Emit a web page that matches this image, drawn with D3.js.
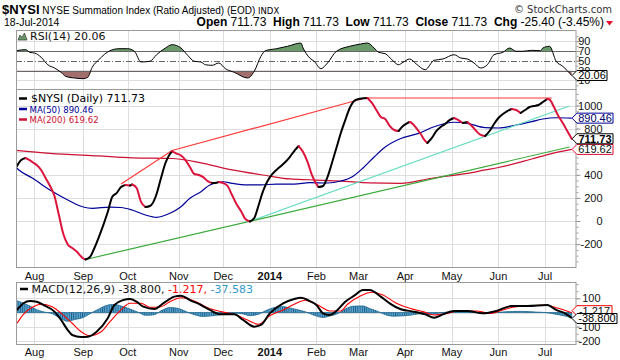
<!DOCTYPE html>
<html><head><meta charset="utf-8">
<script src="https://cdn.jsdelivr.net/npm/d3@7"></script>
<style>body{margin:0;background:#fff}svg{display:block}text{white-space:pre}</style>
</head><body><svg id="c" width="620" height="360"></svg>
<script>
// ---------- calendar / categories ----------
const firstDay = "2013-07-19", lastDay = "2014-07-18";
const holidays = ["2013-09-02","2013-11-28","2013-12-25","2014-01-01","2014-01-20","2014-02-17","2014-04-18","2014-05-26","2014-07-04"];
const monthTickDates = ["2013-08-01","2013-09-03","2013-10-01","2013-11-01","2013-12-02","2014-01-02","2014-02-03","2014-03-03","2014-04-01","2014-05-01","2014-06-02","2014-07-01"];
const monthTickLabels = ["Aug","Sep","Oct","Nov","Dec","2014","Feb","Mar","Apr","May","Jun","Jul"];
const mainTicks = [-200,0,200,400,800,1000];
const rsiTicks = [10,30,50,70,90];
const macdTicks = [-200,-100,100];
const headerStats = [["Open","711.73"],["High","711.73"],["Low","711.73"],["Close","711.73"],["Chg","-25.40 (-3.45%)"]];

// ---------- series ----------
const nysi = [
["2013-07-19",445],["2013-07-22",475],["2013-07-24",528],["2013-07-26",545],["2013-07-30",525],["2013-07-31",511],
["2013-08-02",485],["2013-08-06",442],["2013-08-08",372],["2013-08-12",303],["2013-08-14",216],["2013-08-16",52],["2013-08-20",-113],["2013-08-22",-203],["2013-08-26",-234],["2013-08-28",-264],["2013-08-30",-307],
["2013-09-03",-325],["2013-09-04",-333],["2013-09-06",-312],["2013-09-10",-234],["2013-09-12",-139],["2013-09-16",-35],["2013-09-18",78],["2013-09-20",208],["2013-09-24",242],["2013-09-26",294],["2013-09-30",312],
["2013-10-02",307],["2013-10-03",316],["2013-10-07",286],["2013-10-09",165],["2013-10-11",121],["2013-10-15",130],["2013-10-16",147],["2013-10-18",234],["2013-10-22",372],["2013-10-24",502],["2013-10-28",580],["2013-10-29",602],["2013-10-31",584],
["2013-11-04",567],["2013-11-06",528],["2013-11-08",468],["2013-11-12",407],["2013-11-14",398],["2013-11-18",380],["2013-11-20",345],["2013-11-22",329],["2013-11-26",332],["2013-11-27",338],
["2013-12-02",329],["2013-12-04",303],["2013-12-06",225],["2013-12-10",147],["2013-12-12",87],["2013-12-16",17],["2013-12-18",-4],["2013-12-20",26],["2013-12-24",139],["2013-12-27",260],["2013-12-31",346],
["2014-01-03",403],["2014-01-07",442],["2014-01-09",476],["2014-01-13",511],["2014-01-15",554],["2014-01-17",606],["2014-01-22",649],["2014-01-24",597],["2014-01-28",511],["2014-01-30",398],
["2014-02-03",320],["2014-02-04",294],["2014-02-06",303],["2014-02-10",381],["2014-02-12",502],["2014-02-14",632],["2014-02-19",762],["2014-02-21",874],["2014-02-25",978],["2014-02-27",1039],
["2014-03-03",1056],["2014-03-05",1062],["2014-03-07",1065],["2014-03-11",1022],["2014-03-13",961],["2014-03-17",900],["2014-03-19",883],["2014-03-21",823],["2014-03-25",788],["2014-03-27",779],["2014-03-31",823],
["2014-04-02",848],["2014-04-03",857],["2014-04-04",848],["2014-04-08",805],["2014-04-10",753],["2014-04-14",693],["2014-04-15",675],["2014-04-17",719],["2014-04-22",779],["2014-04-24",814],["2014-04-28",840],["2014-04-30",874],
["2014-05-02",892],["2014-05-06",874],["2014-05-08",848],["2014-05-12",857],["2014-05-14",823],["2014-05-16",779],["2014-05-20",745],["2014-05-22",736],["2014-05-27",779],["2014-05-29",840],
["2014-06-02",892],["2014-06-04",926],["2014-06-06",952],["2014-06-10",970],["2014-06-12",961],["2014-06-16",935],["2014-06-18",961],["2014-06-20",987],["2014-06-24",996],["2014-06-26",1004],["2014-06-30",1030],
["2014-07-02",1056],["2014-07-03",1052],["2014-07-08",987],["2014-07-10",909],["2014-07-14",848],["2014-07-16",779],["2014-07-18",711.73]
];
const ma50 = [
["2013-07-19",480],["2013-07-23",442],["2013-07-31",372],["2013-08-12",268],["2013-08-22",182],["2013-09-03",121],["2013-09-09",110],["2013-09-19",120],["2013-09-26",117],
["2013-10-03",95],["2013-10-11",52],["2013-10-18",32],["2013-10-28",67],["2013-11-04",124],["2013-11-08",197],["2013-11-15",254],["2013-11-21",312],["2013-12-02",340],["2013-12-06",326],
["2013-12-17",312],["2013-12-26",312],["2014-01-07",320],["2014-01-17",320],["2014-01-29",332],["2014-02-10",329],["2014-02-19",346],["2014-02-26",381],["2014-03-05",459],["2014-03-12",554],
["2014-03-19",641],["2014-03-28",714],["2014-04-09",759],["2014-04-21",816],["2014-05-02",855],["2014-05-12",846],["2014-05-22",808],["2014-06-02",805],["2014-06-12",831],["2014-06-23",860],
["2014-06-30",883],["2014-07-09",894],["2014-07-18",890.46]
];
const ma200 = [
["2013-07-19",612],["2013-08-12",586],["2013-09-12",563],["2013-10-03",547],["2013-10-29",541],["2013-11-14",508],["2013-12-06",442],["2013-12-31",392],["2014-01-15",364],
["2014-01-29",357],["2014-02-19",345],["2014-03-10",330],["2014-03-28",326],["2014-04-17",370],["2014-05-12",413],["2014-05-22",442],["2014-06-02",463],["2014-06-23",537],["2014-07-07",584],["2014-07-18",619.62]
];
const trendRed = [["2013-09-26",320],["2013-10-29",610],["2014-03-06",1065],["2014-07-07",1065]];
const trendGreen = [["2013-09-04",-333],["2014-07-17",641]];
const trendCyan = [["2013-12-18",-4],["2014-07-17",996]];
const rsi = [
["2013-07-19",69],["2013-07-22",70.6],["2013-07-26",72.7],["2013-07-30",67],["2013-08-01",65.9],["2013-08-06",57.1],["2013-08-09",42],["2013-08-14",35.3],["2013-08-19",26.5],["2013-08-21",18.4],
["2013-08-27",14.9],["2013-09-03",13.5],["2013-09-05",16.3],["2013-09-09",36.7],["2013-09-12",52.2],["2013-09-19",70.6],["2013-09-25",74.7],["2013-10-01",74.7],["2013-10-04",69.4],["2013-10-09",47.6],
["2013-10-15",49],["2013-10-18",62.4],["2013-10-24",76.1],["2013-10-29",82.9],["2013-11-04",76.1],["2013-11-07",61.2],["2013-11-12",49],["2013-11-15",47.6],["2013-11-19",42],["2013-11-22",40.8],
["2013-11-27",45.5],["2013-12-03",33.9],["2013-12-09",26.5],["2013-12-17",14.9],["2013-12-20",28.6],["2013-12-26",59.2],["2013-12-30",70.6],["2014-01-07",74.7],["2014-01-14",79.6],["2014-01-23",86.3],
["2014-01-24",76.1],["2014-01-29",55.7],["2014-01-31",49],["2014-02-05",33.9],["2014-02-10",45.5],["2014-02-14",69.4],["2014-02-25",79.6],["2014-03-04",84.3],["2014-03-07",86.3],["2014-03-12",76.1],
["2014-03-14",67.3],["2014-03-19",64.5],["2014-03-24",52.2],["2014-03-27",42],["2014-03-31",46.9],["2014-04-03",53.7],["2014-04-08",43.5],["2014-04-14",31.8],["2014-04-21",51],["2014-04-25",53.7],
["2014-05-02",62.4],["2014-05-07",55.7],["2014-05-12",53.7],["2014-05-15",45.5],["2014-05-20",35.3],["2014-05-23",42],["2014-05-29",62.4],["2014-06-04",67.3],["2014-06-09",76.1],["2014-06-12",69.4],
["2014-06-17",69.4],["2014-06-23",71.4],["2014-06-27",70.6],["2014-06-30",76.1],["2014-07-03",79.6],["2014-07-09",49],["2014-07-14",38.8],["2014-07-18",20.06]
];
const macd = [
["2013-07-19",5],["2013-07-22",18],["2013-07-25",65],["2013-07-30",81],["2013-08-02",76],["2013-08-07",53],["2013-08-14",6],["2013-08-19",-53],["2013-08-22",-124],["2013-08-26",-159],["2013-08-30",-173],
["2013-09-05",-171],["2013-09-11",-136],["2013-09-18",-41],["2013-09-23",53],["2013-09-27",88],["2013-10-02",95],["2013-10-07",76],["2013-10-10",41],["2013-10-17",25],["2013-10-23",65],["2013-10-30",112],
["2013-11-04",119],["2013-11-08",88],["2013-11-15",53],["2013-11-21",18],["2013-11-29",-13],["2013-12-09",-13],["2013-12-13",-53],["2013-12-20",-100],["2013-12-26",-88],["2014-01-02",-6],["2014-01-10",65],
["2014-01-17",95],["2014-01-23",104],["2014-01-29",81],["2014-02-03",53],["2014-02-06",-6],["2014-02-11",-18],["2014-02-14",11],["2014-02-21",76],["2014-02-27",119],["2014-03-05",159],["2014-03-10",159],
["2014-03-17",112],["2014-03-21",65],["2014-03-28",23],["2014-04-07",6],["2014-04-14",-13],["2014-04-21",-37],["2014-04-25",-13],["2014-05-02",11],["2014-05-12",11],["2014-05-21",-6],["2014-05-30",11],
["2014-06-10",46],["2014-06-19",46],["2014-07-02",53],["2014-07-09",18],["2014-07-15",-6],["2014-07-18",-38.8]
];
const signal = [
["2013-07-19",-90],["2013-07-22",-76],["2013-07-25",-13],["2013-07-31",37],["2013-08-06",58],["2013-08-13",41],["2013-08-19",-6],["2013-08-26",-76],["2013-08-30",-136],["2013-09-06",-164],["2013-09-13",-136],
["2013-09-19",-65],["2013-09-26",18],["2013-10-02",65],["2013-10-09",65],["2013-10-15",37],["2013-10-22",41],["2013-10-28",76],["2013-11-04",104],["2013-11-12",81],["2013-11-20",34],["2013-11-29",6],
["2013-12-09",-13],["2013-12-17",-53],["2013-12-24",-83],["2014-01-02",-23],["2014-01-10",18],["2014-01-17",58],["2014-01-27",86],["2014-01-29",78],["2014-02-05",41],["2014-02-11",11],["2014-02-19",11],
["2014-02-24",58],["2014-03-04",119],["2014-03-11",143],["2014-03-18",124],["2014-03-26",65],["2014-04-03",30],["2014-04-11",6],["2014-04-21",-18],["2014-04-29",-6],["2014-05-06",11],["2014-05-16",11],
["2014-05-27",-6],["2014-06-04",18],["2014-06-12",41],["2014-06-20",46],["2014-07-01",53],["2014-07-10",30],["2014-07-18",-1.217]
];
const hist = [
["2013-07-19",88],["2013-07-23",78],["2013-07-30",45],["2013-08-02",20],["2013-08-07",5],["2013-08-13",-8],["2013-08-19",-45],["2013-08-22",-62],["2013-08-27",-50],["2013-09-03",-35],["2013-09-06",-8],
["2013-09-12",25],["2013-09-17",48],["2013-09-20",56],["2013-09-24",55],["2013-09-26",45],["2013-10-02",25],["2013-10-08",0],["2013-10-11",-20],["2013-10-17",-15],["2013-10-22",12],["2013-10-28",35],
["2013-11-01",28],["2013-11-06",8],["2013-11-12",-15],["2013-11-18",-28],["2013-11-21",-25],["2013-11-27",-18],["2013-12-03",-10],["2013-12-09",-5],["2013-12-13",-10],["2013-12-18",-22],["2013-12-24",-12],
["2013-12-30",12],["2014-01-06",35],["2014-01-10",42],["2014-01-15",32],["2014-01-22",18],["2014-01-27",5],["2014-01-31",-20],["2014-02-06",-35],["2014-02-11",-25],["2014-02-18",-5],["2014-02-21",25],
["2014-02-27",45],["2014-03-05",46],["2014-03-10",28],["2014-03-14",6],["2014-03-19",-15],["2014-03-25",-26],["2014-03-28",-25],["2014-04-03",-20],["2014-04-09",-10],["2014-04-16",-15],["2014-04-23",-5],
["2014-04-30",4],["2014-05-06",5],["2014-05-15",0],["2014-05-27",-3],["2014-06-05",5],["2014-06-16",8],["2014-06-25",3],["2014-07-01",0],["2014-07-08",-10],["2014-07-15",-25],["2014-07-18",-37.583]
];

// ---------- setup ----------
const fmt = d3.utcFormat("%Y-%m-%d");
const days = d3.utcDay.range(new Date(firstDay + "T00:00Z"), d3.utcDay.offset(new Date(lastDay + "T00:00Z"), 1))
  .filter(d => d.getUTCDay() !== 0 && d.getUTCDay() !== 6).map(fmt).filter(s => !holidays.includes(s));

const svg = d3.select("#c");
const L = 16, R = 576;
const PR = [30, 89], PM = [89, 267], PC = [282, 344];
const x = d3.scalePoint().domain(days).range([14.5, 571.7]);
const yR = d3.scaleLinear().domain([0, 100]).range([85.3, 36.3]);
const yM = d3.scaleLinear().domain([0, 1000]).range([221, 105.5]);
const yC = d3.scaleLinear().domain([0, 100]).range([312.5, 298.33]);
const ok = s => s.filter(p => x(p[0]) !== undefined);
const SANS = "'Liberation Sans', Arial, sans-serif";
const VERD = "'DejaVu Sans', Verdana, sans-serif";

const defs = svg.append("defs");
[["clipR", PR], ["clipM", PM], ["clipC", PC]].forEach(([id, p]) => {
  defs.append("clipPath").attr("id", id).append("rect").attr("x", L).attr("y", p[0]).attr("width", R - L).attr("height", p[1] - p[0]);
});
const pat = defs.append("pattern").attr("id", "histPat").attr("patternUnits", "userSpaceOnUse").attr("width", 2.22).attr("height", 8);
pat.append("rect").attr("width", 2.22).attr("height", 8).attr("fill", "#5aa6d2");
pat.append("rect").attr("width", 0.9).attr("height", 8).attr("fill", "#1f5d86");

// ---------- grids ----------
function vgrid(p) {
  svg.append("g").selectAll("line").data(monthTickDates).join("line")
    .attr("x1", d => Math.round(x(d)) + 0.5).attr("x2", d => Math.round(x(d)) + 0.5)
    .attr("y1", p[0]).attr("y2", p[1]).attr("stroke", "#dedede");
}
vgrid(PR); vgrid(PM); vgrid(PC);
svg.append("g").selectAll("line").data([-400, -200, 0, 200, 400, 600, 800, 1000]).join("line")
  .attr("x1", L).attr("x2", R).attr("y1", d => Math.round(yM(d)) + 0.5).attr("y2", d => Math.round(yM(d)) + 0.5).attr("stroke", "#dedede");
svg.append("g").selectAll("line").data([10, 90]).join("line")
  .attr("x1", L).attr("x2", R).attr("y1", d => Math.round(yR(d)) + 0.5).attr("y2", d => Math.round(yR(d)) + 0.5).attr("stroke", "#dedede");
svg.append("g").selectAll("line").data([-200, -100, 0, 100]).join("line")
  .attr("x1", L).attr("x2", R).attr("y1", d => Math.round(yC(d)) + 0.5).attr("y2", d => Math.round(yC(d)) + 0.5).attr("stroke", "#dedede");

// ---------- RSI panel ----------
const gR = svg.append("g").attr("clip-path", "url(#clipR)");
const rsiPts = ok(rsi);
defs.append("clipPath").attr("id", "rsiUp").append("rect").attr("x", L).attr("y", PR[0]).attr("width", R - L).attr("height", yR(70) - PR[0]);
defs.append("clipPath").attr("id", "rsiDn").append("rect").attr("x", L).attr("y", yR(30)).attr("width", R - L).attr("height", PR[1] - yR(30));
gR.append("path").attr("clip-path", "url(#rsiUp)").attr("fill", "#6b9a6b")
  .attr("d", d3.area().curve(d3.curveMonotoneX).x(d => x(d[0])).y0(yR(70)).y1(d => yR(d[1]))(rsiPts));
gR.append("path").attr("clip-path", "url(#rsiDn)").attr("fill", "#a26f6f")
  .attr("d", d3.area().curve(d3.curveMonotoneX).x(d => x(d[0])).y0(yR(30)).y1(d => yR(d[1]))(rsiPts));
[70, 30].forEach(v => gR.append("line").attr("x1", L).attr("x2", R).attr("y1", Math.round(yR(v)) + 0.5).attr("y2", Math.round(yR(v)) + 0.5).attr("stroke", "#666"));
gR.append("line").attr("x1", L).attr("x2", R).attr("y1", Math.round(yR(50)) + 0.5).attr("y2", Math.round(yR(50)) + 0.5)
  .attr("stroke", "#666").attr("stroke-dasharray", "6,2,1,2");
gR.append("path").attr("fill", "none").attr("stroke", "#000").attr("stroke-width", 1)
  .attr("d", d3.line().curve(d3.curveMonotoneX).x(d => x(d[0])).y(d => yR(d[1]))(rsiPts));

// ---------- main panel ----------
const gM = svg.append("g").attr("clip-path", "url(#clipM)");
const lineM = d3.line().curve(d3.curveMonotoneX).x(d => x(d[0])).y(d => yM(d[1]));
const straightM = d3.line().x(d => x(d[0])).y(d => yM(d[1]));
gM.append("path").attr("fill", "none").attr("stroke", "#cc1133").attr("stroke-width", 1.2).attr("d", lineM(ok(ma200)));
gM.append("path").attr("fill", "none").attr("stroke", "#000099").attr("stroke-width", 1.2).attr("d", lineM(ok(ma50)));
gM.append("path").attr("fill", "none").attr("stroke", "#66dcc0").attr("stroke-width", 1.2).attr("d", straightM(ok(trendCyan)));
gM.append("path").attr("fill", "none").attr("stroke", "#3aaa3a").attr("stroke-width", 1.2).attr("d", straightM(ok(trendGreen)));
gM.append("path").attr("fill", "none").attr("stroke", "#ff3838").attr("stroke-width", 1.2).attr("d", straightM(ok(trendRed)));
const np = ok(nysi);
const runs = []; let cur = [np[0]], dir = null;
for (let i = 1; i < np.length; i++) {
  const up = np[i][1] >= np[i - 1][1];
  if (dir === null || up === dir) { cur.push(np[i]); dir = up; }
  else { runs.push({ up: dir, pts: cur }); cur = [np[i - 1], np[i]]; dir = up; }
}
runs.push({ up: dir, pts: cur });
gM.selectAll(".run").data(runs).join("path").attr("class", "run").attr("fill", "none")
  .attr("stroke", d => d.up ? "#000" : "#dc143c").attr("stroke-width", 2).attr("stroke-linecap", "round").attr("stroke-linejoin", "round")
  .attr("d", d => lineM(d.pts));

// ---------- MACD panel ----------
const gC = svg.append("g").attr("clip-path", "url(#clipC)");
gC.append("path").attr("fill", "url(#histPat)").attr("stroke", "#216a92").attr("stroke-width", 0.8)
  .attr("d", d3.area().curve(d3.curveMonotoneX).x(d => x(d[0])).y0(yC(0)).y1(d => yC(d[1]))(ok(hist)));
const lineC = d3.line().curve(d3.curveMonotoneX).x(d => x(d[0])).y(d => yC(d[1]));
gC.append("path").attr("fill", "none").attr("stroke", "#ff0000").attr("stroke-width", 1.1).attr("d", lineC(ok(signal)));
gC.append("path").attr("fill", "none").attr("stroke", "#000").attr("stroke-width", 2).attr("d", lineC(ok(macd)));

// ---------- panel borders ----------
[PR, PM, PC].forEach(p => svg.append("rect").attr("x", L + 0.5).attr("y", p[0] + 0.5).attr("width", R - L - 0.5).attr("height", p[1] - p[0])
  .attr("fill", "none").attr("stroke", "#9a9a9a"));

// ---------- right axes ----------
function rightAxis(scale, minor, major, labelX) {
  const a1 = svg.append("g").attr("transform", `translate(${R + 0.5},0)`).call(d3.axisRight(scale).tickValues(minor).tickSize(2).tickFormat(""));
  a1.select(".domain").remove(); a1.selectAll("line").attr("stroke", "#999");
  const a2 = svg.append("g").attr("transform", `translate(${R + 0.5},0)`).call(d3.axisRight(scale).tickValues(major).tickSize(4).tickFormat(d => String(d)));
  a2.select(".domain").remove(); a2.selectAll("line").attr("stroke", "#999");
  a2.selectAll("text").attr("x", labelX).attr("text-anchor", "end").attr("fill", "#111")
    .style("font-family", SANS).style("font-size", "11px");
}
rightAxis(yM, d3.range(-350, 1101, 50), mainTicks, 26);
rightAxis(yR, d3.range(0, 101, 10), rsiTicks, 14);
rightAxis(yC, d3.range(-200, 201, 50), macdTicks, 24);

// ---------- value boxes ----------
function valueBox(yc, w, text, stroke, color, bold) {
  const x0 = 572, h = 10;
  svg.append("path").attr("d", `M${x0},${yc} L${x0 + 5},${yc - h / 2} L${x0 + w},${yc - h / 2} L${x0 + w},${yc + h / 2} L${x0 + 5},${yc + h / 2} Z`)
    .attr("fill", "#fff").attr("stroke", stroke).attr("stroke-width", 1);
  svg.append("text").attr("x", x0 + 5 + (w - 5) / 2).attr("y", yc).attr("dy", "0.36em").attr("text-anchor", "middle")
    .attr("fill", color).style("font-family", SANS).style("font-size", "11px").style("font-weight", bold ? "bold" : "normal").text(text);
}
const lastOf = s => s[s.length - 1][1];
valueBox(yM(lastOf(ma50)), 41, lastOf(ma50).toFixed(2), "#000099", "#000066", false);
valueBox(yM(lastOf(ma200)), 41, lastOf(ma200).toFixed(2), "#dd1133", "#111", false);
valueBox(yM(lastOf(nysi)), 41, lastOf(nysi).toFixed(2), "#000", "#000", true);
valueBox(yR(lastOf(rsi)), 35, lastOf(rsi).toFixed(2), "#000", "#000", false);
valueBox(yC(lastOf(signal)) - 2, 40, lastOf(signal).toFixed(3), "#ff0000", "#111", false);
valueBox(yC(lastOf(macd)) + 0.5, 45, lastOf(macd).toFixed(3), "#000", "#000", false);

// ---------- x axis labels ----------
function xLabels(yb) {
  svg.append("g").selectAll("text").data(monthTickDates).join("text")
    .attr("x", d => x(d)).attr("y", yb).attr("text-anchor", "middle").attr("fill", "#111")
    .style("font-family", SANS).style("font-size", "11px")
    .style("font-weight", (d, i) => monthTickLabels[i] === "2014" ? "bold" : "normal")
    .text((d, i) => monthTickLabels[i]);
}
xLabels(280); xLabels(355.5);

// ---------- legends ----------
svg.append("path").attr("d", "M18,40 L20,35 L22,37.5 L24.5,33 L27,40 Z").attr("fill", "#6b9a6b").attr("stroke", "#333").attr("stroke-width", 0.7);
svg.append("text").attr("x", 30).attr("y", 40).style("font-family", VERD).style("font-size", "11px").attr("fill", "#111")
  .text(`RSI(14) ${lastOf(rsi).toFixed(2)}`);
const legM = [
  { c: "#000", t: `$NYSI (Daily) ${lastOf(nysi).toFixed(2)}`, y: 102, fs: 11, lx: 31 },
  { c: "#000099", t: `MA(50) ${lastOf(ma50).toFixed(2)}`, y: 112.5, fs: 8.6, lx: 29.5 },
  { c: "#cc1133", t: `MA(200) ${lastOf(ma200).toFixed(2)}`, y: 123, fs: 8.6, lx: 29.5 }
];
legM.forEach(l => {
  svg.append("line").attr("x1", 19).attr("x2", 27).attr("y1", l.y - 3.5).attr("y2", l.y - 3.5).attr("stroke", l.c).attr("stroke-width", 2.5);
  svg.append("text").attr("x", l.lx).attr("y", l.y).attr("fill", l.c).style("font-family", VERD).style("font-size", l.fs + "px").text(l.t);
});
svg.append("line").attr("x1", 20).attr("x2", 28).attr("y1", 289).attr("y2", 289).attr("stroke", "#000").attr("stroke-width", 2.5);
const mt = svg.append("text").attr("x", 31.5).attr("y", 292.5).style("font-family", VERD).style("font-size", "11px");
mt.append("tspan").attr("fill", "#111").text(`MACD(12,26,9) ${lastOf(macd).toFixed(3)}, `);
mt.append("tspan").attr("fill", "#ff0000").text(`${lastOf(signal).toFixed(3)}, `);
mt.append("tspan").attr("fill", "#3399cc").text(`${lastOf(hist).toFixed(3)}`);

// ---------- header ----------
const h1 = svg.append("text").attr("x", 2).attr("y", 14).style("font-family", SANS).attr("fill", "#000");
h1.append("tspan").style("font-weight", "bold").style("font-size", "13px").text("$NYSI");
h1.append("tspan").style("font-size", "10px").text(" NYSE Summation Index (Ratio Adjusted) (EOD) ");
h1.append("tspan").style("font-size", "8.5px").style("font-family", VERD).text("INDX");
svg.append("text").attr("x", 612).attr("y", 13).attr("text-anchor", "end").attr("fill", "#333")
  .style("font-family", VERD).style("font-size", "10px").text("© StockCharts.com");
svg.append("text").attr("x", 4).attr("y", 26).style("font-family", SANS).style("font-size", "10.5px").attr("fill", "#000").text("18-Jul-2014");
const h2 = svg.append("text").attr("x", 604).attr("y", 26).attr("text-anchor", "end").style("font-family", SANS).style("font-size", "12px").attr("fill", "#000");
headerStats.forEach((s, i) => {
  h2.append("tspan").style("font-weight", "bold").text(s[0]);
  h2.append("tspan").text(" " + s[1] + (i < headerStats.length - 1 ? "  " : ""));
});
svg.append("path").attr("d", "M606,21 L613,21 L609.5,25.5 Z").attr("fill", "#e8102a");
</script>
</body></html>
